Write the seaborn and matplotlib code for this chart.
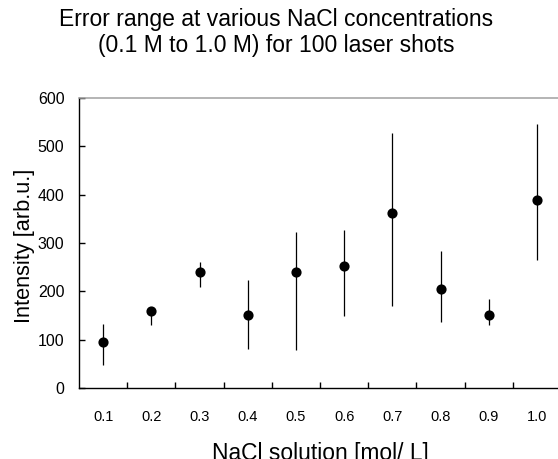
import matplotlib
matplotlib.use("Agg")
import matplotlib.pyplot as plt
import seaborn as sns
import pandas as pd

# NaCl concentrations (mol/L) and measured intensity statistics over 100 laser shots
concentrations = ["0.1", "0.2", "0.3", "0.4", "0.5", "0.6", "0.7", "0.8", "0.9", "1.0"]
mean_intensity = [96, 160, 241, 152, 239, 253, 363, 205, 152, 388]
low_intensity = [48, 131, 208, 81, 78, 150, 169, 137, 130, 264]
high_intensity = [132, 166, 260, 224, 322, 327, 527, 284, 185, 546]
y_ticks = [0, 100, 200, 300, 400, 500, 600]

df = pd.DataFrame({
    "conc": concentrations,
    "mean": mean_intensity,
    "low": low_intensity,
    "high": high_intensity,
})

sns.set_style("white")
plt.rcParams["font.family"] = ["Liberation Sans", "DejaVu Sans"]
plt.rcParams["text.color"] = "black"
plt.rcParams["axes.labelcolor"] = "black"
plt.rcParams["xtick.color"] = "black"
plt.rcParams["ytick.color"] = "black"
plt.rcParams["ytick.left"] = True
plt.rcParams["xtick.bottom"] = True

fig = plt.figure(figsize=(5.58, 4.59), dpi=100)
ax = fig.add_axes([79 / 558, 1 - 388 / 459, 482 / 558, 290 / 459])

# error range per concentration
ax.vlines(range(len(df)), df["low"], df["high"], color="black", linewidth=0.9, zorder=2)

sns.pointplot(data=df, x="conc", y="mean", order=concentrations,
              linestyle="none", marker="o", markersize=5.3, color="black",
              errorbar=None, ax=ax, zorder=3)

ax.set_xlim(-0.5, len(concentrations) - 0.5)
ax.set_ylim(0, 600)
ax.set_yticks(y_ticks)
ax.set_yticklabels([str(v) for v in y_ticks], fontsize=11.5)
ax.set_xticks(range(len(concentrations)))
ax.set_xticklabels(concentrations, fontsize=10.5)
ax.set_xticks([i + 0.5 for i in range(len(concentrations) - 1)], minor=True)

ax.tick_params(axis="x", which="major", bottom=True, length=0, pad=16)
ax.tick_params(axis="x", which="minor", bottom=True, direction="in", length=4.5,
               width=1.0, color="black")
ax.tick_params(axis="y", which="major", left=True, direction="in", length=4.5,
               width=1.0, color="black", pad=10.5)

for side in ("left", "bottom"):
    ax.spines[side].set_color("black")
    ax.spines[side].set_linewidth(1.0)
ax.spines["top"].set_color("#a0a0a0")
ax.spines["top"].set_linewidth(1.1)
ax.spines["right"].set_visible(False)

ax.set_xlabel("NaCl solution [mol/ L]", fontsize=16.4)
ax.set_ylabel("Intensity [arb.u.]", fontsize=15.7)
ax.xaxis.set_label_coords(0.5, -0.186)
ax.yaxis.set_label_coords(-0.092, 0.49)

fig.text(0.495, 1 - 8 / 459, "Error range at various NaCl concentrations\n(0.1 M to 1.0 M) for 100 laser shots",
         ha="center", va="top", fontsize=16.5, linespacing=1.15)

fig.savefig("out.png", dpi=100)
